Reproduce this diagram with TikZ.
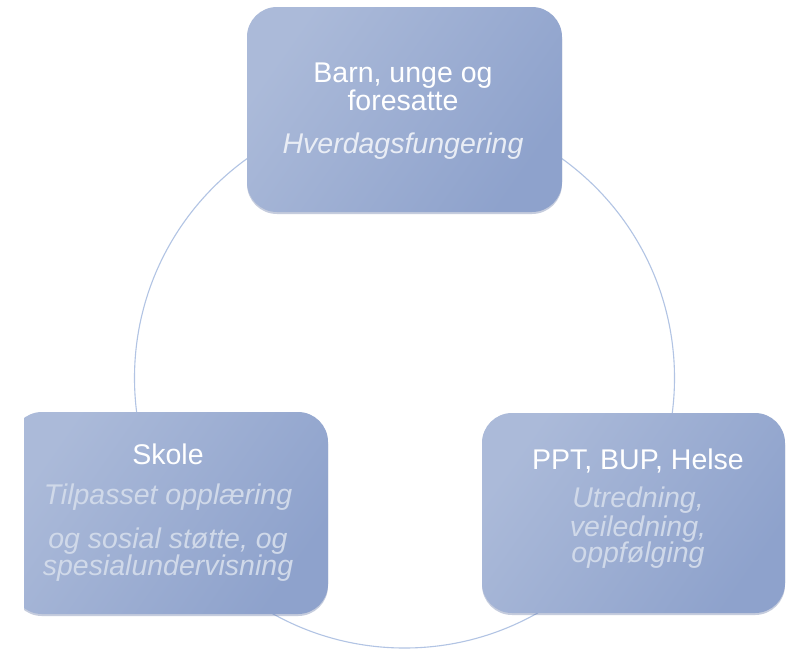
\documentclass[tikz,border=0pt]{standalone}
\usepackage{fontspec}
\setmainfont{Liberation Sans}
\usetikzlibrary{shadows}
\definecolor{boxlight}{RGB}{171,186,217}
\definecolor{boxdark}{RGB}{142,162,204}
\definecolor{ringcol}{RGB}{178,196,228}
\definecolor{subtop}{RGB}{233,237,245}
\definecolor{subside}{RGB}{208,217,233}
\definecolor{shadowcol}{RGB}{90,110,160}
\tikzset{
  boxshape/.style={rectangle, rounded corners=30pt, draw=none, inner sep=0pt,
    shading=axis, top color=boxlight, bottom color=boxdark, shading angle=55,
    drop shadow={shadow xshift=0pt, shadow yshift=-2pt, opacity=0.35, fill=shadowcol}},
  ttl/.style={anchor=base, inner sep=0pt, text=white, font=\fontsize{28.5}{28.5}\selectfont},
  subtxt/.style={anchor=base, inner sep=0pt, font=\fontsize{28.5}{28.5}\selectfont\itshape},
}
\begin{document}
\begin{tikzpicture}[x=1pt,y=-1pt]
\useasboundingbox (0,0) rectangle (795,649);
\fill[white] (0,0) rectangle (795,649);
% ring
\node[circle, draw=ringcol, line width=1.1pt, minimum size=540pt, inner sep=0pt] (ring) at (404.5,378) {};
% top box
\node[boxshape, minimum width=315pt, minimum height=205pt] (topbox) at (404.5,109.5) {};
\node[ttl] (t1) at (403,82) {Barn, unge og};
\node[ttl] (t2) at (403,110) {foresatte};
\node[subtxt, text=subtop] (t3) at (403,153) {Hverdagsfungering};
% left box (clipped at left edge)
\begin{scope}
\clip (24,0) rectangle (795,649);
\node[boxshape, minimum width=316pt, minimum height=202pt] (leftbox) at (170,513) {};
\end{scope}
\node[ttl] (l1) at (168,464) {Skole};
\node[subtxt, text=subside] (l2) at (168,504) {Tilpasset opplæring};
\node[subtxt, text=subside] (l3) at (168,548) {og sosial støtte, og};
\node[subtxt, text=subside] (l4) at (168,575) {spesialundervisning};
% right box
\node[boxshape, minimum width=303pt, minimum height=200pt] (rightbox) at (633.5,513) {};
\node[ttl] (r1) at (638,469) {PPT, BUP, Helse};
\node[subtxt, text=subside] (r2) at (638,507) {Utredning,};
\node[subtxt, text=subside] (r3) at (638,536) {veiledning,};
\node[subtxt, text=subside] (r4) at (638,562) {oppfølging};
\end{tikzpicture}
\end{document}
